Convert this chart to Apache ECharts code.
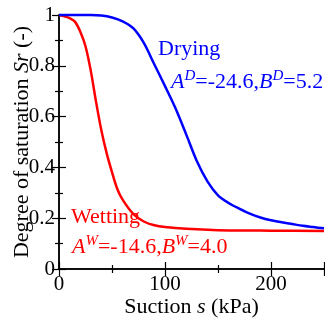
<!DOCTYPE html>
<html>
<head>
<meta charset="utf-8">
<script src="https://cdn.jsdelivr.net/npm/echarts@6/dist/echarts.min.js"></script>
<style>
  html, body { margin: 0; padding: 0; background: #fff; }
  #chart { width: 325px; height: 320px; }
</style>
</head>
<body>
<div id="chart"></div>
<script>
// drying curve (blue)
const sDrying = [0, 10, 20, 30, 40, 50, 60, 70, 80, 90, 100, 110, 120, 130, 140, 150, 160, 170, 180, 190, 200, 210, 220, 230, 240, 250]
const srDrying = [1, 1, 1, 1, 0.998, 0.99, 0.975, 0.948, 0.89, 0.805, 0.72, 0.632, 0.53, 0.425, 0.345, 0.29, 0.26, 0.238, 0.218, 0.203, 0.192, 0.184, 0.177, 0.17, 0.165, 0.16]

// wetting curve (red)
const sWetting = [0, 5, 10, 15, 20, 25, 30, 35, 40, 45, 50, 55, 60, 70, 80, 90, 100, 120, 150, 200, 250]
const srWetting = [1, 0.995, 0.988, 0.974, 0.935, 0.877, 0.78, 0.657, 0.545, 0.455, 0.381, 0.315, 0.273, 0.217, 0.187, 0.172, 0.165, 0.158, 0.153, 0.151, 0.15]

const xMin = 0, xMax = 250, xStep = 100
const yMin = 0, yMax = 1, yStep = 0.2

const FONT = '"Liberation Serif", "DejaVu Serif", serif'
const FS = 21
const BLUE = '#0000ff'
const RED = '#ff0000'

const pairs = (xs, ys) => xs.map((x, i) => [x, ys[i]])

const chart = echarts.init(document.getElementById('chart'), null, { renderer: 'canvas' })

const axisLine = { show: true, lineStyle: { color: '#000', width: 1.5 } }
const tick = { show: true, inside: true, length: 7, lineStyle: { color: '#000', width: 1.2 } }
const minor = { show: true, splitNumber: 2, length: 4, lineStyle: { color: '#000', width: 1.2 } }

const baseX = {
	type: 'value', min: xMin, max: xMax, interval: xStep,
	axisLine, axisTick: tick, minorTick: minor, splitLine: { show: false }
}
const baseY = {
	type: 'value', min: yMin, max: yMax, interval: yStep,
	axisLine, axisTick: tick, minorTick: minor, splitLine: { show: false }
}

const supText = (color) => ({
	i: { fontFamily: FONT, fontSize: 22, fontStyle: 'italic', fill: color, verticalAlign: 'bottom', lineHeight: 24 },
	n: { fontFamily: FONT, fontSize: 22, fill: color, verticalAlign: 'bottom', lineHeight: 24 },
	s: { fontFamily: FONT, fontSize: 15, fontStyle: 'italic', fill: color, verticalAlign: 'top', lineHeight: 15 }
})

const titleStyle = {
	fontFamily: FONT, fontSize: 22, color: '#000',
	rich: { i: { fontFamily: FONT, fontSize: 22, fontStyle: 'italic', color: '#000' } }
}

const option = {
	animation: false,
	backgroundColor: '#fff',
	grid: { left: 59, top: 15, width: 265, height: 254, outerBoundsMode: 'none', containLabel: false },
	xAxis: [
		{
			...baseX,
			position: 'bottom',
			name: 'Suction {i|s} (kPa)',
			nameLocation: 'middle',
			nameGap: 27,
			nameMoveOverlap: false,
			nameTextStyle: titleStyle,
			axisLabel: { fontFamily: FONT, fontSize: FS, color: '#000', margin: 5, showMaxLabel: false }
		},
		{ ...baseX, position: 'top', axisLabel: { show: false } }
	],
	yAxis: [
		{
			...baseY,
			position: 'left',
			name: 'Degree of saturation {i|Sr} (-)',
			nameLocation: 'middle',
			nameGap: 26,
			nameMoveOverlap: false,
			nameTextStyle: titleStyle,
			axisLabel: {
				fontFamily: FONT, fontSize: FS, color: '#000', margin: 4,
				formatter: (v) => String(parseFloat(v.toFixed(1)))
			}
		},
		{ ...baseY, position: 'right', axisLabel: { show: false } }
	],
	series: [
		{
			name: 'Wetting',
			type: 'line',
			data: pairs(sWetting, srWetting),
			showSymbol: false,
			smooth: 0.3,
			clip: false,
			lineStyle: { color: RED, width: 2.5 }
		},
		{
			name: 'Drying',
			type: 'line',
			data: pairs(sDrying, srDrying),
			showSymbol: false,
			smooth: 0.3,
			clip: false,
			lineStyle: { color: BLUE, width: 2.5 }
		}
	],
	graphic: [
		{
			type: 'text', left: 158, top: 38,
			style: { text: 'Drying', fontFamily: FONT, fontSize: 22, fill: BLUE }
		},
		{
			type: 'text', left: 171, top: 69,
			style: {
				text: '{i|A}{s|D}{n|=-24.6,}{i|B}{s|D}{n|=5.2}',
				rich: supText(BLUE)
			}
		},
		{
			type: 'text', left: 71, top: 206,
			style: { text: 'Wetting', fontFamily: FONT, fontSize: 22, fill: RED }
		},
		{
			type: 'text', left: 72, top: 234,
			style: {
				text: '{i|A}{s|W}{n|=-14.6,}{i|B}{s|W}{n|=4.0}',
				rich: supText(RED)
			}
		}
	]
}

chart.setOption(option)
</script>
</body>
</html>
